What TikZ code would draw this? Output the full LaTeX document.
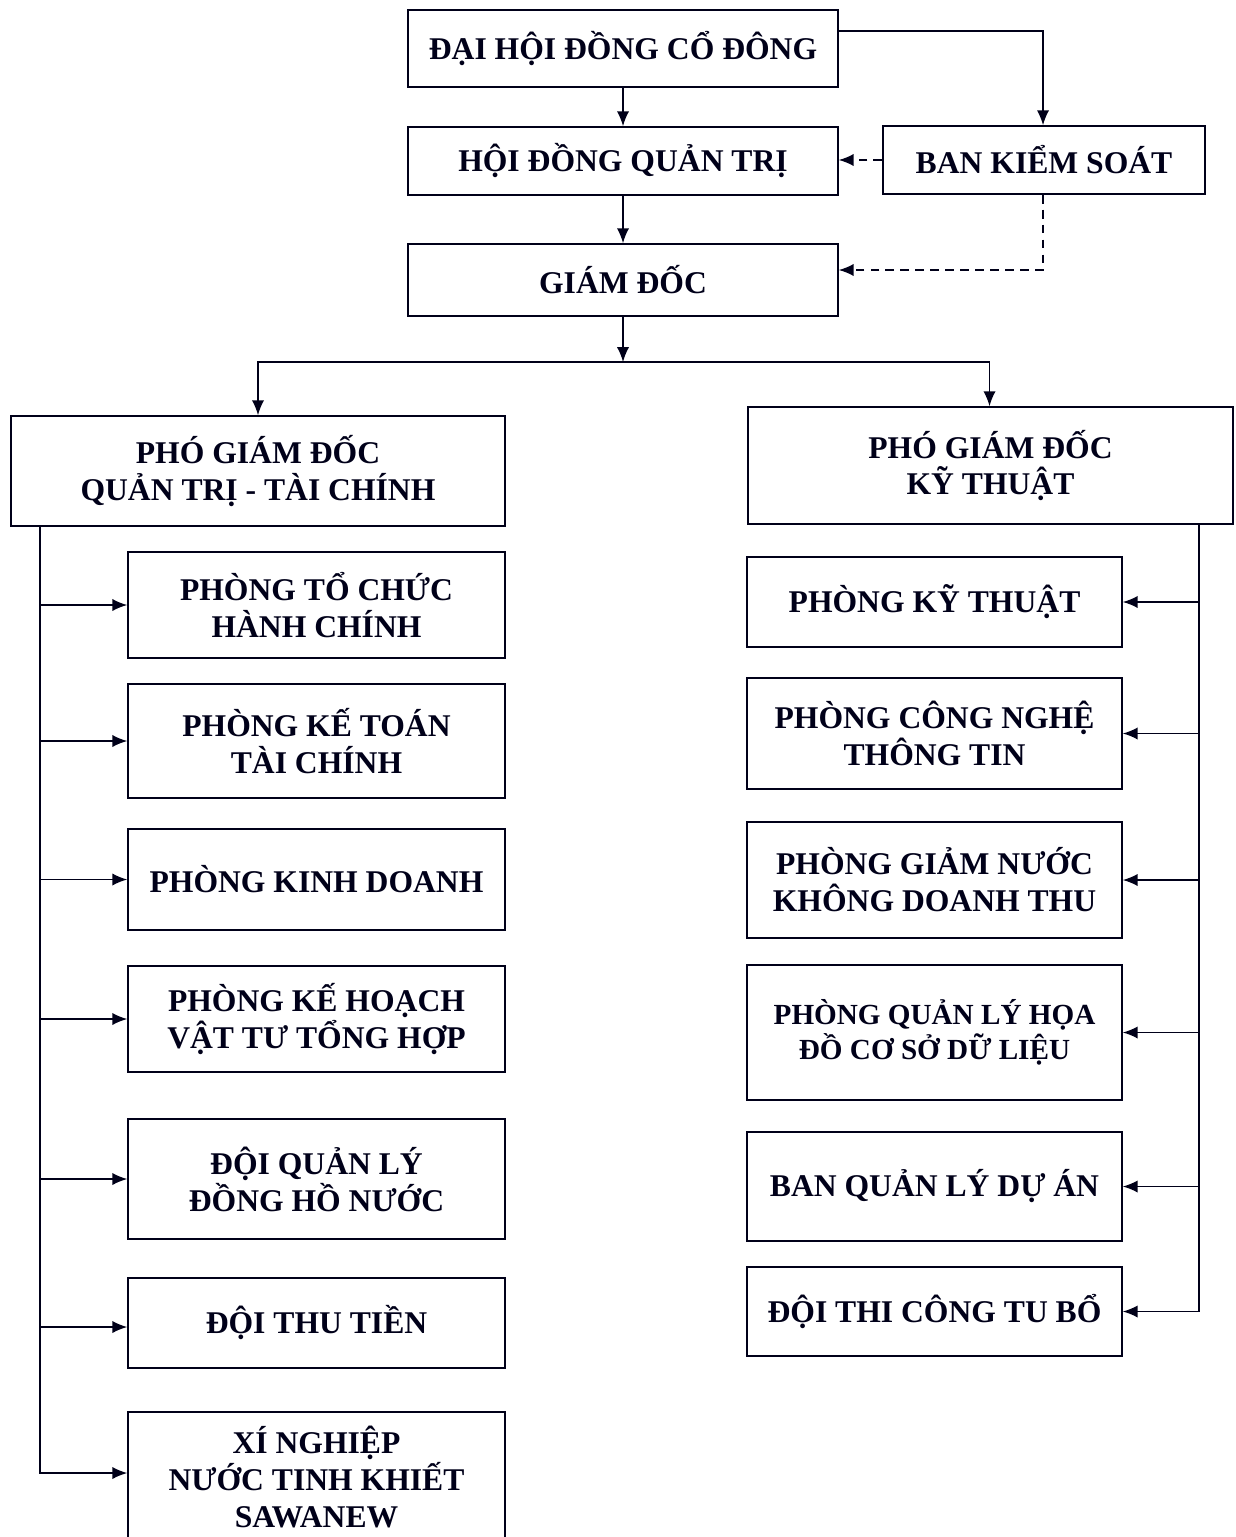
\documentclass[tikz,border=0pt]{standalone}
\usepackage{fontspec}
\setmainfont{Liberation Serif}
\usetikzlibrary{arrows.meta}
\begin{document}
\begin{tikzpicture}[x=0.02cm,y=-0.02cm,
  box/.style={draw=black!90!blue, line width=0.9pt, align=center, inner sep=0pt,
    font=\fontsize{18}{21}\selectfont\bfseries, text=black!90!blue},
  arr/.style={draw=black!90!blue, line width=0.9pt, -{Latex[length=8.5pt,width=7pt]}},
  ln/.style={draw=black!90!blue, line width=0.9pt},
  dsh/.style={dash pattern=on 5pt off 3.5pt}]
\useasboundingbox (0,0) rectangle (1235,1537);
% top
\node[box, minimum width=8.6cm, minimum height=1.54cm] (dh) at (623,48.5) {ĐẠI HỘI ĐỒNG CỔ ĐÔNG};
\node[box, minimum width=8.6cm, minimum height=1.36cm] (hd) at (623,161) {HỘI ĐỒNG QUẢN TRỊ};
\node[box, minimum width=6.44cm, minimum height=1.36cm] (bk) at (1044,160) {BAN KIỂM SOÁT};
\node[box, minimum width=8.6cm, minimum height=1.44cm] (gd) at (623,280) {GIÁM ĐỐC};
\node[box, minimum width=9.88cm, minimum height=2.2cm] (pl) at (258,471) {PHÓ GIÁM ĐỐC\\QUẢN TRỊ - TÀI CHÍNH};
\node[box, minimum width=9.7cm, minimum height=2.34cm] (pr) at (990.5,465.5) {PHÓ GIÁM ĐỐC\\KỸ THUẬT};
% left children
\node[box, minimum width=7.54cm, minimum height=2.12cm] (l1) at (316.5,605) {PHÒNG TỔ CHỨC\\HÀNH CHÍNH};
\node[box, minimum width=7.54cm, minimum height=2.28cm] (l2) at (316.5,741) {PHÒNG KẾ TOÁN\\TÀI CHÍNH};
\node[box, minimum width=7.54cm, minimum height=2.02cm] (l3) at (316.5,879.5) {PHÒNG KINH DOANH};
\node[box, minimum width=7.54cm, minimum height=2.12cm] (l4) at (316.5,1019) {PHÒNG KẾ HOẠCH\\VẬT TƯ TỔNG HỢP};
\node[box, minimum width=7.54cm, minimum height=2.4cm] (l5) at (316.5,1179) {ĐỘI QUẢN LÝ\\ĐỒNG HỒ NƯỚC};
\node[box, minimum width=7.54cm, minimum height=1.8cm] (l6) at (316.5,1323) {ĐỘI THU TIỀN};
\node[box, minimum width=7.54cm, minimum height=2.6cm] (l7) at (316.5,1477) {XÍ NGHIỆP\\NƯỚC TINH KHIẾT\\SAWANEW};
% right children
\node[box, minimum width=7.5cm, minimum height=1.8cm] (r1) at (934.5,602) {PHÒNG KỸ THUẬT};
\node[box, minimum width=7.5cm, minimum height=2.22cm] (r2) at (934.5,733.5) {PHÒNG CÔNG NGHỆ\\THÔNG TIN};
\node[box, minimum width=7.5cm, minimum height=2.32cm] (r3) at (934.5,880) {PHÒNG GIẢM NƯỚC\\KHÔNG DOANH THU};
\node[box, minimum width=7.5cm, minimum height=2.7cm, font=\fontsize{16.6}{20}\selectfont\bfseries] (r4) at (934.5,1032.5) {PHÒNG QUẢN LÝ HỌA\\ĐỒ CƠ SỞ DỮ LIỆU};
\node[box, minimum width=7.5cm, minimum height=2.18cm] (r5) at (934.5,1186.5) {BAN QUẢN LÝ DỰ ÁN};
\node[box, minimum width=7.5cm, minimum height=1.78cm] (r6) at (934.5,1311.5) {ĐỘI THI CÔNG TU BỔ};
% connectors top
\draw[arr] (dh) -- (hd);
\draw[arr] (hd) -- (gd);
\draw[arr] ([yshift=-0.44cm]dh.north east) -| ([xshift=-0.02cm]bk.north);
\draw[arr,dsh] (bk.west) -- (hd.east |- bk.west);
\draw[arr,dsh] ([xshift=-0.02cm]bk.south) |- ([yshift=0.2cm]gd.east);
\coordinate (j) at (623,362);
\draw[arr] (gd.south) -- (j);
\draw[arr] (j) -| (pl.north);
\draw[arr] (j) -| ([xshift=-0.02cm]pr.north);
% left bus
\coordinate (lb) at (40,526);
\draw[ln] (lb) -- (40,1473);
\foreach \n in {l1,l2,l3,l4,l5}{\draw[arr] (lb) |- (\n.west);}
\draw[arr] (lb) |- ([yshift=-0.08cm]l6.west);
\draw[arr] (lb) |- ([yshift=0.08cm]l7.west);
% right bus
\coordinate (rb) at (1199,524);
\foreach \n in {r1,r2,r3,r4,r5,r6}{\draw[arr] (rb) |- (\n.east);}
\end{tikzpicture}
\end{document}
